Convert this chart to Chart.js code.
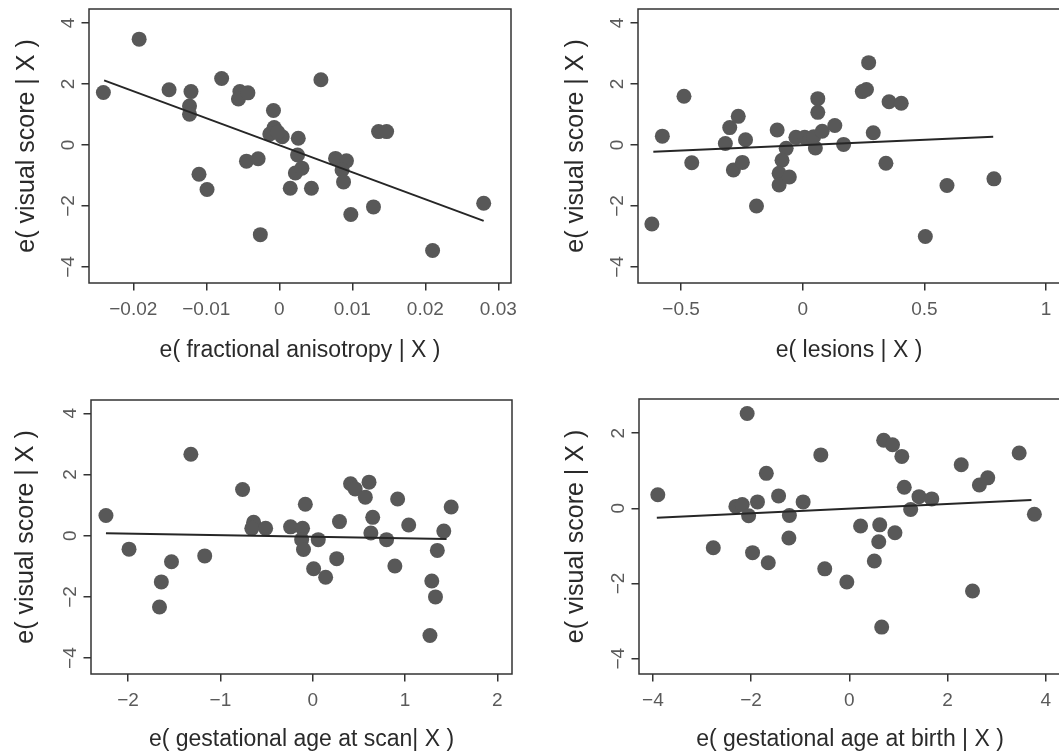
<!DOCTYPE html>
<html>
<head>
<meta charset="utf-8">
<script src="https://cdn.jsdelivr.net/npm/chart.js@4.4.1/dist/chart.umd.min.js"></script>
<style>
html,body{margin:0;padding:0;background:#fff;overflow:hidden;width:1059px;height:755px;}
#wrap{position:relative;width:1059px;height:755px;overflow:hidden;background:#fff;}
canvas{position:absolute;}
</style>
</head>
<body>
<div id="wrap">
<canvas id="c1"></canvas>
<canvas id="c2"></canvas>
<canvas id="c3"></canvas>
<canvas id="c4"></canvas>
</div>
<script>
// ---------- DATA ----------
// Panel 1: fractional anisotropy
const faX = [-0.0241,-0.0192,-0.0151,-0.0121,-0.0123,-0.0123,-0.0110,-0.0099,-0.0079,-0.0054,-0.0056,-0.0043,-0.0045,-0.0029,-0.0026,-0.0008,-0.0007,-0.0013,0.0004,-0.0002,0.0026,0.0025,0.0022,0.0031,0.0015,0.0044,0.0057,0.0077,0.0092,0.0086,0.0088,0.0098,0.0129,0.0136,0.0147,0.0210,0.0280];
const faY = [1.72,3.47,1.81,1.75,1.28,1.01,-0.96,-1.46,2.18,1.75,1.51,1.71,-0.53,-0.45,-2.94,1.13,0.57,0.36,0.27,0.42,0.22,-0.33,-0.92,-0.76,-1.42,-1.42,2.14,-0.44,-0.52,-0.82,-1.21,-2.28,-2.03,0.44,0.44,-3.46,-1.91];
const faFitX = [-0.0240, 0.0280];
const faFitY = [2.12, -2.49];
const faXTicks = [-0.02,-0.01,0,0.01,0.02,0.03];
const faXTickLabels = ["\u22120.02","\u22120.01","0","0.01","0.02","0.03"];

// Panel 2: lesions
const lesX = [-0.620,-0.577,-0.488,-0.456,-0.318,-0.300,-0.265,-0.235,-0.285,-0.248,-0.190,-0.105,-0.068,-0.085,-0.097,-0.097,-0.055,-0.028,0.008,0.030,0.062,0.062,0.052,0.045,0.080,0.132,0.168,0.245,0.262,0.271,0.290,0.355,0.405,0.342,0.504,0.593,0.786];
const lesY = [-2.59,0.29,1.60,-0.58,0.05,0.57,0.94,0.17,-0.82,-0.57,-2.00,0.49,-0.11,-0.50,-0.93,-1.31,-1.05,0.25,0.25,0.22,1.52,1.07,-0.10,0.27,0.45,0.64,0.02,1.75,1.82,2.70,0.40,1.42,1.37,-0.60,-3.00,-1.33,-1.11];
const lesFitX = [-0.614, 0.783];
const lesFitY = [-0.22, 0.27];
const lesXTicks = [-0.5,0,0.5,1];
const lesXTickLabels = ["\u22120.5","0","0.5","1"];

// Panel 3: gestational age at scan
const scanX = [-2.24,-1.99,-1.32,-1.64,-1.66,-1.53,-1.17,-0.76,-0.64,-0.66,-0.51,-0.24,-0.11,-0.12,-0.10,-0.08,0.06,0.01,0.14,0.26,0.29,0.41,0.46,0.57,0.61,0.65,0.63,0.80,0.89,0.92,1.04,1.29,1.27,1.33,1.35,1.42,1.50];
const scanY = [0.66,-0.44,2.66,-1.51,-2.33,-0.85,-0.66,1.51,0.44,0.24,0.24,0.29,0.24,-0.13,-0.45,1.03,-0.13,-1.08,-1.36,-0.75,0.46,1.70,1.53,1.26,1.75,0.60,0.09,-0.13,-0.99,1.20,0.35,-1.48,-3.26,-2.00,-0.48,0.15,0.94];
const scanFitX = [-2.24, 1.45];
const scanFitY = [0.08, -0.11];
const scanXTicks = [-2,-1,0,1,2];
const scanXTickLabels = ["\u22122","\u22121","0","1","2"];

// Panel 4: gestational age at birth
const birthX = [-3.90,-2.77,-2.08,-2.31,-2.18,-2.05,-1.97,-1.87,-1.69,-1.65,-1.44,-1.22,-1.23,-0.94,-0.58,-0.50,-0.05,0.23,0.51,0.60,0.62,0.66,0.70,0.88,1.07,0.93,1.12,1.25,1.42,1.68,2.28,2.51,2.65,2.82,3.46,3.77];
const birthY = [0.36,-1.05,2.52,0.05,0.10,-0.20,-1.18,0.17,0.93,-1.45,0.33,-0.19,-0.79,0.17,1.42,-1.61,-1.96,-0.47,-1.40,-0.89,-0.44,-3.16,1.81,1.69,1.38,-0.65,0.56,-0.03,0.31,0.25,1.16,-2.20,0.62,0.81,1.47,-0.16];
const birthFitX = [-3.92, 3.71];
const birthFitY = [-0.25, 0.22];
const birthXTicks = [-4,-2,0,2,4];
const birthXTickLabels = ["\u22124","\u22122","0","2","4"];

// y axis ticks
const yTicksA = [-4,-2,0,2,4];
const yTickLabelsA = ["\u22124","\u22122","0","2","4"];
const yTicksB = [-4,-2,0,2];
const yTickLabelsB = ["\u22124","\u22122","0","2"];

const yTitle = "e( visual score | X )";

// ---------- RENDERING ----------
const FONT = '"Liberation Sans", Arial, Helvetica, sans-serif';
const XTITLE_SIZE = 23;
const YTITLE_SIZE = 25;

function zeroPad(s){ s.paddingTop = 0; s.paddingBottom = 0; s.paddingLeft = 0; s.paddingRight = 0; }

const boxPlugin = {
  id: 'box',
  afterDatasetsDraw(chart){
    const a = chart.chartArea, ctx = chart.ctx;
    ctx.save();
    ctx.strokeStyle = '#333';
    ctx.lineWidth = 1.5;
    ctx.strokeRect(a.left, a.top, a.right - a.left, a.bottom - a.top);
    ctx.restore();
  }
};

function makePanel(p){
  const cv = document.getElementById(p.id);
  cv.width = p.cw; cv.height = p.ch;
  cv.style.left = p.cl + 'px'; cv.style.top = p.ct + 'px';
  cv.style.width = p.cw + 'px'; cv.style.height = p.ch + 'px';
  const t = p.plot[1] - p.ct, r = p.plot[2] - p.cl, b = p.plot[3] - p.ct, l = p.plot[0] - p.cl;
  new Chart(cv, {
    type: 'scatter',
    data: {
      datasets: [
        { type: 'line', data: p.fitX.map((x, i) => ({x: x, y: p.fitY[i]})),
          borderColor: '#262626', borderWidth: 2, pointRadius: 0, pointHoverRadius: 0,
          fill: false, tension: 0, order: 0 },
        { type: 'scatter', data: p.x.map((x, i) => ({x: x, y: p.y[i]})),
          backgroundColor: '#585858', borderWidth: 0, pointRadius: 7.5, pointHoverRadius: 7.5, order: 1 }
      ]
    },
    options: {
      responsive: false, animation: false, devicePixelRatio: 1,
      events: [],
      layout: { padding: { left: 0, top: t, right: p.cw - r, bottom: 0 } },
      plugins: { legend: { display: false }, tooltip: { enabled: false } },
      scales: {
        x: {
          type: 'linear', position: 'bottom', min: p.xRange[0], max: p.xRange[1], bounds: 'data',
          afterBuildTicks: s => { s.ticks = p.xTicks.map(v => ({value: v})); },
          afterFit: s => { s.height = p.ch - b; zeroPad(s); },
          grid: { drawOnChartArea: false, drawTicks: true, tickLength: 7.5, color: '#333', lineWidth: 1.5 },
          border: { display: false },
          ticks: { autoSkip: false, minRotation: 0, maxRotation: 0, padding: 7.5, color: '#5a5a5a',
                   font: { family: FONT, size: 19 }, callback: (v, i) => p.xTickLabels[i] },
          title: { display: true, text: p.xTitle, color: '#2a2a2a', font: { family: FONT, size: XTITLE_SIZE },
                   padding: { top: 0, bottom: p.ch - (p.xTitleY - p.ct) - XTITLE_SIZE * 0.6 } }
        },
        y: {
          type: 'linear', position: 'left', min: p.yRange[0], max: p.yRange[1], bounds: 'data',
          afterBuildTicks: s => { s.ticks = p.yTicks.map(v => ({value: v})); },
          afterFit: s => { s.width = l; zeroPad(s); },
          grid: { drawOnChartArea: false, drawTicks: true, tickLength: 7.5, color: '#333', lineWidth: 1.5 },
          border: { display: false },
          ticks: { autoSkip: false, minRotation: 90, maxRotation: 90, crossAlign: 'center', padding: 2.2,
                   color: '#5a5a5a', font: { family: FONT, size: 19 }, callback: (v, i) => p.yTickLabels[i] },
          title: { display: true, text: yTitle, color: '#2a2a2a', font: { family: FONT, size: YTITLE_SIZE },
                   padding: { top: (p.yTitleX - p.cl) - YTITLE_SIZE * 0.6, bottom: 0 } }
        }
      }
    },
    plugins: [boxPlugin]
  });
}

makePanel({ id: 'c1', cl: 0, ct: 0, cw: 545, ch: 380, plot: [89, 9, 511, 283],
  x: faX, y: faY, fitX: faFitX, fitY: faFitY,
  xRange: [-0.02607, 0.03174], yRange: [-4.525, 4.459],
  xTicks: faXTicks, xTickLabels: faXTickLabels, yTicks: yTicksA, yTickLabels: yTickLabelsA,
  xTitle: "e( fractional anisotropy | X )", xTitleY: 351, yTitleX: 27 });

makePanel({ id: 'c2', cl: 530, ct: 0, cw: 560, ch: 380, plot: [638, 9, 1060, 283],
  x: lesX, y: lesY, fitX: lesFitX, fitY: lesFitY,
  xRange: [-0.677, 1.0575], yRange: [-4.525, 4.459],
  xTicks: lesXTicks, xTickLabels: lesXTickLabels, yTicks: yTicksA, yTickLabels: yTickLabelsA,
  xTitle: "e( lesions | X )", xTitleY: 351, yTitleX: 576 });

makePanel({ id: 'c3', cl: 0, ct: 380, cw: 545, ch: 375, plot: [91, 400, 512, 674],
  x: scanX, y: scanY, fitX: scanFitX, fitY: scanFitY,
  xRange: [-2.402, 2.159], yRange: [-4.52, 4.435],
  xTicks: scanXTicks, xTickLabels: scanXTickLabels, yTicks: yTicksA, yTickLabels: yTickLabelsA,
  xTitle: "e( gestational age at scan| X )", xTitleY: 740, yTitleX: 26 });

makePanel({ id: 'c4', cl: 530, ct: 380, cw: 560, ch: 375, plot: [639, 399, 1061, 674],
  x: birthX, y: birthY, fitX: birthFitX, fitY: birthFitY,
  xRange: [-4.283, 4.312], yRange: [-4.407, 2.907],
  xTicks: birthXTicks, xTickLabels: birthXTickLabels, yTicks: yTicksB, yTickLabels: yTickLabelsB,
  xTitle: "e( gestational age at birth | X )", xTitleY: 740, yTitleX: 576 });
</script>
</body>
</html>
